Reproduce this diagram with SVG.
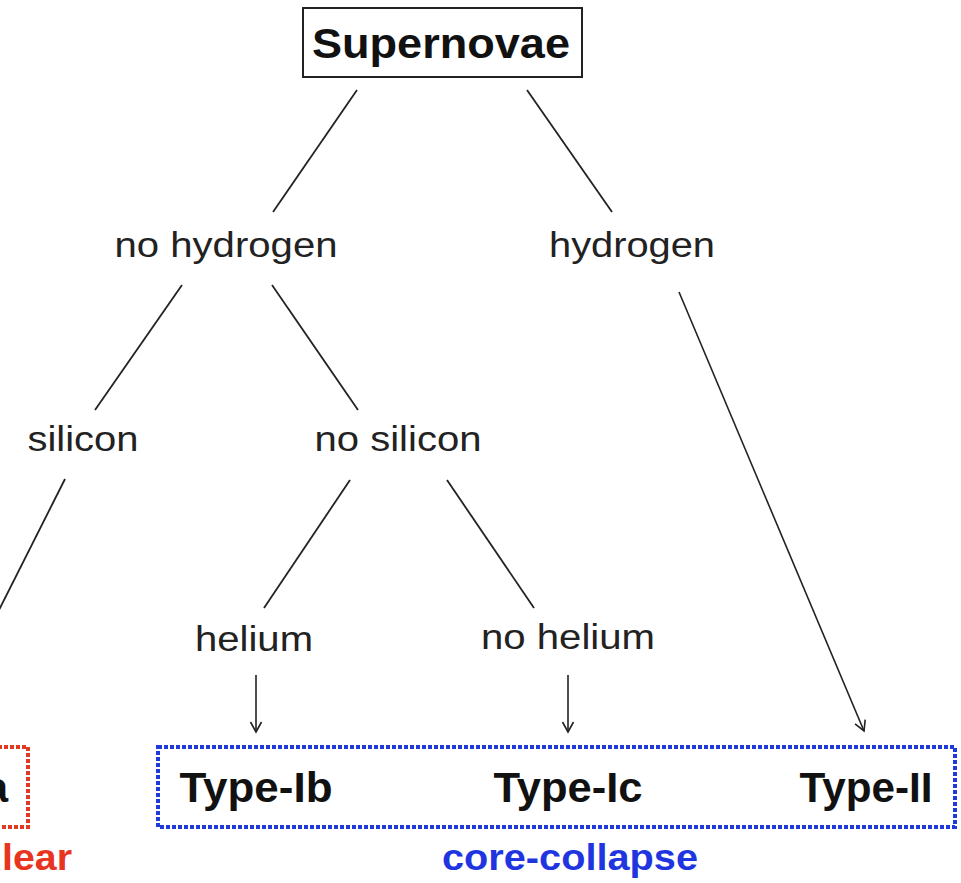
<svg xmlns="http://www.w3.org/2000/svg" width="961" height="883" viewBox="0 0 961 883">
<defs>
<marker id="ah" markerWidth="14" markerHeight="14" refX="12" refY="7" orient="auto" markerUnits="userSpaceOnUse">
<polyline points="2,1.5 12,7 2,12.5" fill="none" stroke="#222" stroke-width="1.6"/>
</marker>
<style>
.lbl{font-family:"Liberation Sans",Arial,sans-serif;font-size:35px;fill:#222;text-anchor:middle}
.typ{font-family:"Liberation Sans",Arial,sans-serif;font-size:42px;font-weight:bold;fill:#111;text-anchor:middle}
.ln{stroke:#222;stroke-width:1.8;fill:none}
.arr{stroke:#222;stroke-width:1.6;fill:none;marker-end:url(#ah)}
</style>
</defs>
<rect width="961" height="883" fill="#fff"/>
<g id="connectors">
<line class="ln" x1="357" y1="90" x2="273" y2="212"/>
<line class="ln" x1="527" y1="90" x2="612" y2="212"/>
<line class="ln" x1="182" y1="285" x2="95" y2="410"/>
<line class="ln" x1="272" y1="285" x2="358" y2="410"/>
<line class="ln" x1="65" y1="479" x2="-2" y2="612"/>
<line class="ln" x1="350" y1="480" x2="264" y2="608"/>
<line class="ln" x1="447" y1="480" x2="534" y2="608"/>
<line class="arr" x1="256" y1="675" x2="256" y2="732"/>
<line class="arr" x1="568" y1="675" x2="568" y2="732"/>
<line class="arr" x1="679" y1="292" x2="864" y2="731"/>
</g>
<g id="supernovae">
<rect x="303" y="8" width="279" height="69" fill="#fff" stroke="#222" stroke-width="2"/>
<text class="typ" x="441" y="58" font-size="43" textLength="258" lengthAdjust="spacingAndGlyphs">Supernovae</text>
</g>
<g id="no-hydrogen"><text class="lbl" x="226" y="257" textLength="223" lengthAdjust="spacingAndGlyphs">no hydrogen</text></g>
<g id="hydrogen"><text class="lbl" x="632" y="257" textLength="166" lengthAdjust="spacingAndGlyphs">hydrogen</text></g>
<g id="silicon"><text class="lbl" x="83" y="451" textLength="111" lengthAdjust="spacingAndGlyphs">silicon</text></g>
<g id="no-silicon"><text class="lbl" x="398" y="451" textLength="167" lengthAdjust="spacingAndGlyphs">no silicon</text></g>
<g id="helium"><text class="lbl" x="254" y="651" textLength="118" lengthAdjust="spacingAndGlyphs">helium</text></g>
<g id="no-helium"><text class="lbl" x="568" y="649" textLength="174" lengthAdjust="spacingAndGlyphs">no helium</text></g>
<g id="thermonuclear">
<rect x="-20" y="747" width="48" height="80" fill="none" stroke="#e03a22" stroke-width="4" stroke-dasharray="4 2"/>
<text class="typ" x="8" y="802" text-anchor="end" style="text-anchor:end">a</text>
<text x="2" y="870" font-family="'Liberation Sans',Arial,sans-serif" font-size="36" font-weight="bold" fill="#e8351f" textLength="70" lengthAdjust="spacingAndGlyphs">lear</text>
</g>
<g id="core-collapse">
<rect x="158" y="747" width="797" height="80" fill="none" stroke="#1f3ad8" stroke-width="4" stroke-dasharray="4 2"/>
<text class="typ" x="256" y="802" textLength="153" lengthAdjust="spacingAndGlyphs">Type-Ib</text>
<text class="typ" x="568" y="802" textLength="149" lengthAdjust="spacingAndGlyphs">Type-Ic</text>
<text class="typ" x="866" y="802" textLength="133" lengthAdjust="spacingAndGlyphs">Type-II</text>
<text x="570" y="870" font-family="'Liberation Sans',Arial,sans-serif" font-size="36" font-weight="bold" fill="#1f35e0" text-anchor="middle" textLength="256" lengthAdjust="spacingAndGlyphs">core-collapse</text>
</g>
</svg>
